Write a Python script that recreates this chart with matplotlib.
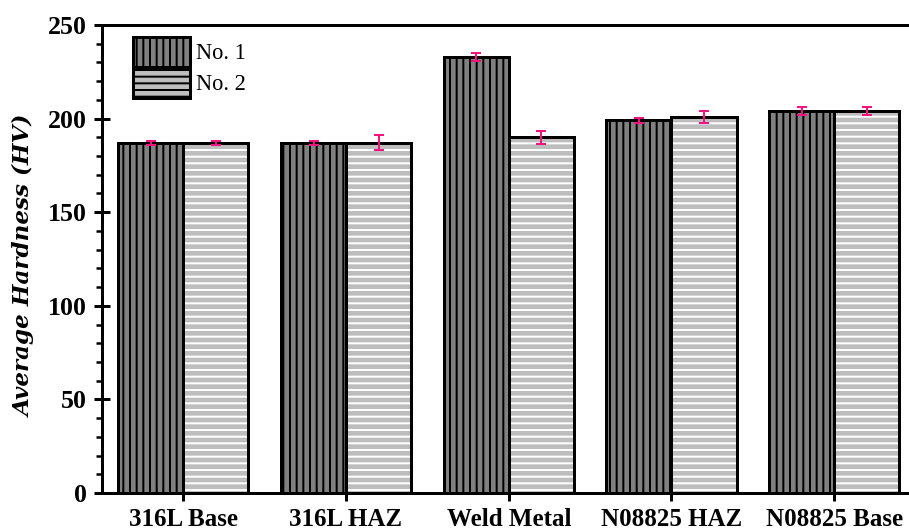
import numpy as np
import matplotlib
matplotlib.use('Agg')
import matplotlib.pyplot as plt
import matplotlib.patches as mpatches

# hardness data (HV)
zones = ['316L Base', '316L HAZ', 'Weld Metal', 'N08825 HAZ', 'N08825 Base']
no1 = [187, 187, 233, 199, 204]
no1_err = [1, 1, 2, 1.3, 2]
no2 = [187, 187, 190, 201, 204]
no2_err = [1, 4, 3.3, 3.3, 2]

police = 'Liberation Serif'
plt.rcParams['hatch.linewidth'] = 1.2

fig = plt.figure(figsize=(909/120, 531/120), dpi=120)
ax = fig.add_axes([0.1122, 0.0716, 0.895, 0.8813])

x = np.arange(len(zones))
w = 0.4
rose = '#f5147f'
gris1 = '#808080'
gris2 = '#bdbdbd'

# hatch drawn in its own colour, then black outline on top
ax.bar(x - w/2, no1, w, color=gris1, edgecolor='black', hatch='|||', linewidth=0, zorder=2)
ax.bar(x + w/2, no2, w, color=gris2, edgecolor='white', hatch='---', linewidth=0, zorder=2)
ax.bar(x - w/2, no1, w, fill=False, edgecolor='black', linewidth=1.8, zorder=3)
ax.bar(x + w/2, no2, w, fill=False, edgecolor='black', linewidth=1.8, zorder=3)

ax.errorbar(x - w/2, no1, yerr=no1_err, fmt='none', ecolor=rose, elinewidth=1.2,
            capsize=3, capthick=1.2, zorder=4)
ax.errorbar(x + w/2, no2, yerr=no2_err, fmt='none', ecolor=rose, elinewidth=1.2,
            capsize=3, capthick=1.2, zorder=4)

# legend proxies
h1 = mpatches.Patch(facecolor=gris1, edgecolor='black', hatch='|||', linewidth=1.8)
h2 = mpatches.Patch(facecolor=gris2, edgecolor='black', hatch='---', linewidth=1.8)
leg = ax.legend([h1, h2], ['No. 1', 'No. 2'], loc='upper left', bbox_to_anchor=(0.038, 0.975),
                frameon=False, borderpad=0, handlelength=2.53, handleheight=1.72,
                labelspacing=0.0, handletextpad=0.27, borderaxespad=0,
                prop={'family': police, 'size': 13.5})

ax.set_xlim(-0.5, 4.5)
ax.set_ylim(0, 250)
ax.set_yticks([0, 50, 100, 150, 200, 250])
ax.set_yticks(np.arange(0, 251, 10), minor=True)
ax.set_xticks(x)
ax.set_xticklabels(zones, fontfamily=police, fontweight='bold', fontsize=15)
for lab in ax.get_yticklabels():
    lab.set_fontfamily(police)
    lab.set_fontweight('bold')
    lab.set_fontsize(15.5)

ax.set_ylabel('Average Hardness (HV)', fontfamily='DejaVu Serif', fontweight='bold',
              fontstyle='italic', fontsize=13.8)
ax.yaxis.set_label_coords(-0.081, 0.485)

for s in ['left', 'bottom', 'top']:
    ax.spines[s].set_linewidth(1.8)
ax.spines['right'].set_visible(False)
ax.tick_params(axis='y', which='major', direction='inout', length=10, width=1.8, pad=4)
ax.tick_params(axis='y', which='minor', direction='out', length=3.5, width=1.5)
ax.tick_params(axis='x', which='major', direction='out', length=5, width=1.8, pad=4)

fig.savefig('out.png', dpi=120)
